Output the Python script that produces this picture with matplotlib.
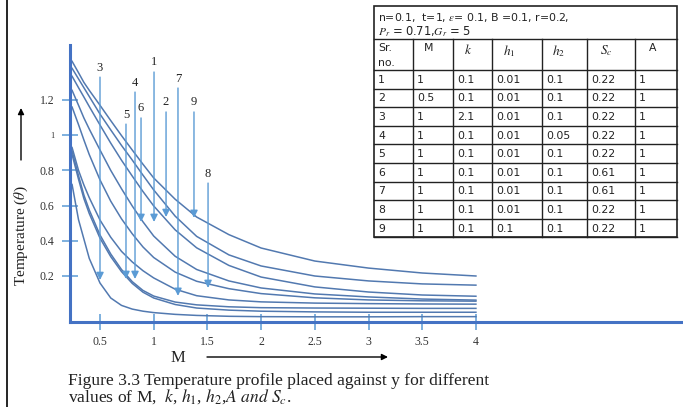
import matplotlib.pyplot as plt
from matplotlib.patches import Rectangle

plt.rcParams['font.family'] = ['Liberation Serif', 'DejaVu Serif']
plt.rcParams['mathtext.fontset'] = 'stix'

# points along M where the temperature was sampled
M = [0.24, 0.3, 0.35, 0.4, 0.5, 0.6, 0.7, 0.8, 0.9, 1.0, 1.2, 1.4, 1.7, 2.0, 2.5, 3.0, 3.5, 4.0]

theta_9 = [1.42, 1.355, 1.30, 1.255, 1.17, 1.083, 0.998, 0.916, 0.835, 0.757, 0.636, 0.535, 0.435, 0.359, 0.285, 0.245, 0.217, 0.20]
theta_2 = [1.38, 1.32, 1.27, 1.22, 1.12, 1.03, 0.942, 0.859, 0.773, 0.689, 0.54, 0.425, 0.32, 0.257, 0.20, 0.172, 0.155, 0.148]
theta_1 = [1.335, 1.27, 1.217, 1.163, 1.058, 0.955, 0.858, 0.768, 0.68, 0.598, 0.462, 0.36, 0.26, 0.194, 0.138, 0.109, 0.092, 0.085]
theta_6 = [1.255, 1.17, 1.098, 1.035, 0.916, 0.80, 0.696, 0.598, 0.508, 0.427, 0.312, 0.237, 0.172, 0.132, 0.098, 0.081, 0.069, 0.063]
theta_8 = [1.16, 1.06, 0.973, 0.89, 0.746, 0.625, 0.525, 0.44, 0.365, 0.305, 0.222, 0.17, 0.128, 0.10, 0.076, 0.064, 0.059, 0.057]
theta_7 = [0.93, 0.80, 0.717, 0.645, 0.518, 0.42, 0.34, 0.28, 0.23, 0.189, 0.125, 0.088, 0.064, 0.053, 0.046, 0.043, 0.041, 0.040]
theta_5 = [0.91, 0.77, 0.66, 0.575, 0.433, 0.325, 0.237, 0.168, 0.118, 0.086, 0.052, 0.036, 0.025, 0.02, 0.018, 0.017, 0.016, 0.016]
theta_4 = [0.89, 0.75, 0.64, 0.555, 0.415, 0.31, 0.225, 0.158, 0.108, 0.075, 0.038, 0.018, 0.006, 0.0, -0.004, -0.006, -0.006, -0.006]
theta_3 = [0.72, 0.52, 0.41, 0.30, 0.16, 0.075, 0.033, 0.012, 0.0, -0.008, -0.018, -0.024, -0.029, -0.031, -0.032, -0.032, -0.031, -0.031]
curves = [theta_9, theta_2, theta_1, theta_6, theta_8, theta_7, theta_5, theta_4, theta_3]

# curve markers: label, M position, start and end of the arrow
arrow_ids = ['3', '5', '4', '6', '1', '2', '7', '9', '8']
arrow_x = [0.5, 0.742, 0.826, 0.882, 1.003, 1.115, 1.226, 1.375, 1.506]
arrow_top = [1.33, 1.063, 1.245, 1.098, 1.359, 1.132, 1.268, 1.132, 0.728]
arrow_tip = [0.177, 0.183, 0.183, 0.507, 0.507, 0.535, 0.087, 0.53, 0.132]

x_ticks = [0.5, 1, 1.5, 2, 2.5, 3, 3.5, 4]
y_ticks = [0.2, 0.4, 0.6, 0.8, 1, 1.2]

# parameter table
params_1 = 'n=0.1,  t=1, $\\epsilon$= 0.1, B =0.1, r=0.2,'
params_2 = '$P_r$ = 0.71,$G_r$ = 5'
headers = ['Sr.\nno.', 'M', '$k$', '$h_1$', '$h_2$', '$S_c$', 'A']
sr_no = ['1', '2', '3', '4', '5', '6', '7', '8', '9']
col_M = ['1', '0.5', '1', '1', '1', '1', '1', '1', '1']
col_k = ['0.1', '0.1', '2.1', '0.1', '0.1', '0.1', '0.1', '0.1', '0.1']
col_h1 = ['0.01', '0.01', '0.01', '0.01', '0.01', '0.01', '0.01', '0.01', '0.1']
col_h2 = ['0.1', '0.1', '0.1', '0.05', '0.1', '0.1', '0.1', '0.1', '0.1']
col_Sc = ['0.22', '0.22', '0.22', '0.22', '0.22', '0.61', '0.61', '0.22', '0.22']
col_A = ['1', '1', '1', '1', '1', '1', '1', '1', '1']

W, H = 683, 407
fig = plt.figure(figsize=(W / 100, H / 100), dpi=100)
ax = fig.add_axes([70 / W, (H - 322) / H, (W - 70) / W, 277 / H])
ax.set_xlim(0.2207, 5.928)
ax.set_ylim(-0.0614, 1.5125)

for th in curves:
    ax.plot(M, th, color='#5279b0', lw=1.1)

for lab, x, top, tip in zip(arrow_ids, arrow_x, arrow_top, arrow_tip):
    ax.annotate('', xy=(x, tip), xytext=(x, top),
                arrowprops=dict(arrowstyle='-|>', color='#5b9bd5', lw=1.0,
                                mutation_scale=11, shrinkA=0, shrinkB=0))
    ax.text(x, top + 0.02, lab, ha='center', va='bottom', fontsize=9,
            color='#222222')

for side in ['top', 'right']:
    ax.spines[side].set_visible(False)
for side in ['left', 'bottom']:
    ax.spines[side].set_color('#4472c4')
    ax.spines[side].set_linewidth(2.2)

ax.set_xticks(x_ticks)
ax.set_xticklabels([str(v) for v in x_ticks])
ax.set_yticks(y_ticks)
ax.set_yticklabels([str(v) for v in y_ticks])
ax.tick_params(direction='inout', length=12, width=1.1, color='#5b9bd5',
               labelsize=8.5, labelcolor='#333333')
ax.tick_params(axis='x', pad=4)
ax.tick_params(axis='y', pad=5)
ax.get_yticklabels()[4].set_fontsize(6)

# page overlay in pixel units: frame, table, axis titles, caption
ov = fig.add_axes([0, 0, 1, 1], zorder=5)
ov.set_xlim(0, W)
ov.set_ylim(H, 0)
ov.axis('off')
ov.patch.set_alpha(0)

ov.plot([7, 7], [0, H], color='black', lw=1.2)

cols = [374, 413, 453, 492, 542, 587, 635, 677]
head_x = [378, 424, 464, 503, 552, 600, 649]
top, hdr, body = 6, 39, 70
row_h = 18.6
bottom = body + row_h * len(sr_no)
ov.add_patch(Rectangle((cols[0], top), cols[-1] - cols[0], bottom - top,
                       facecolor='white', edgecolor='#222222', lw=1.2))
ov.plot([cols[0], cols[-1]], [hdr, hdr], color='#222222', lw=1)
for i in range(len(sr_no) + 1):
    y = body + i * row_h
    ov.plot([cols[0], cols[-1]], [y, y], color='#222222', lw=1)
for c in cols[1:-1]:
    ov.plot([c, c], [hdr, bottom], color='#222222', lw=1)

tfont = dict(family='DejaVu Sans', fontsize=7.8, color='#222222')
ov.text(cols[0] + 4, 17, params_1, va='center', **tfont)
ov.text(cols[0] + 4, 32, params_2, va='center',
        **{**tfont, 'fontsize': 8.3})
for hx, h in zip(head_x, headers):
    size = 9.5 if h.startswith('$') else 7.8
    ov.text(hx, 43, h, va='top', linespacing=1.6,
            **{**tfont, 'fontsize': size})
table_cols = [sr_no, col_M, col_k, col_h1, col_h2, col_Sc, col_A]
for j, col in enumerate(table_cols):
    for i, v in enumerate(col):
        ov.text(cols[j] + 4, body + i * row_h + row_h / 2 + 0.5, v,
                va='center', **tfont)

ov.text(21, 236, 'Temperature ($\\theta$)', rotation=90, ha='center',
        va='center', fontsize=11, color='#222222')
ov.annotate('', xy=(21, 108), xytext=(21, 160),
            arrowprops=dict(arrowstyle='-|>', color='black', lw=1.0,
                            mutation_scale=9, shrinkA=0, shrinkB=0))
ov.text(178, 358, 'M', ha='center', va='center', fontsize=12, color='#222222')
ov.annotate('', xy=(388, 357), xytext=(207, 357),
            arrowprops=dict(arrowstyle='-|>', color='black', lw=1.0,
                            mutation_scale=9, shrinkA=0, shrinkB=0))

ov.text(68, 381, 'Figure 3.3 Temperature profile placed against y for different',
        va='center', fontsize=12.6, color='#222222')
ov.text(68, 397, 'values of M,  $k$, $h_1$, $h_2$,$A\\ and\\ S_c$.',
        va='center', fontsize=12.6, color='#222222')

fig.savefig('out.png', dpi=100)
